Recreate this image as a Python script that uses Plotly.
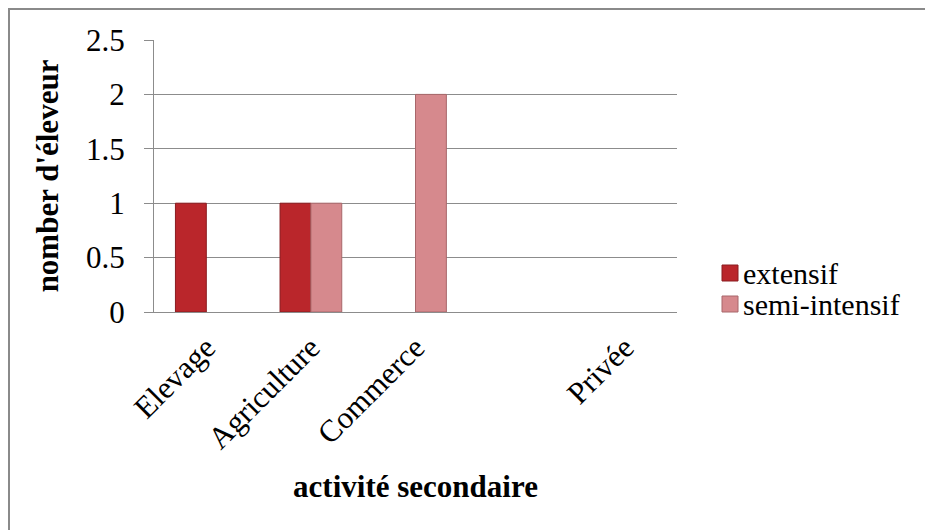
import plotly.graph_objects as go

# Secondary activity of breeders, by farming system
categories = ["Elevage", "Agriculture", "Commerce", " ", "Privée"]
extensif = [1, 1, 0, 0, 0]
semi_intensif = [0, 1, 2, 0, 0]
y_ticks = [0, 0.5, 1, 1.5, 2, 2.5]
y_tick_labels = ["0", "0.5", "1", "1.5", "2", "2.5"]
series_names = ["extensif", "semi-intensif"]
series_colors = ["#BA262B", "#D6898D"]
series_edges = ["#8a1c20", "#a8676a"]

FONT = "Liberation Serif"
GRID = "#8c8c8c"

W, H = 925, 530
L, R, T, B = 154, 248, 40, 218
pw, ph = W - L - R, H - T - B


def px_to_paper(x, y):
    return (x - L) / pw, (H - B - y) / ph


def edge_widths(values):
    # outline only the bars that actually have height
    return [1 if v > 0 else 0 for v in values]


fig = go.Figure()
for name, vals, col, edge in zip(series_names, [extensif, semi_intensif],
                                 series_colors, series_edges):
    fig.add_trace(go.Bar(
        name=name, x=categories, y=vals, showlegend=False,
        marker=dict(color=col, line=dict(color=edge, width=edge_widths(vals))),
    ))

# chart-area frame (only its top and left edges fall inside the page)
x0, y0 = px_to_paper(9, 9)
x1, y1 = px_to_paper(W + 20, H + 20)
fig.add_shape(type="rect", xref="paper", yref="paper",
              x0=x0, y0=y1, x1=x1, y1=y0,
              line=dict(color="#8a8a8a", width=2), layer="below")

# legend: colour key squares and series names to the right of the plot
legend_rows = [273, 304]
for name, col, edge, row in zip(series_names, series_colors, series_edges, legend_rows):
    kx0, ky0 = px_to_paper(722, row - 8)
    kx1, ky1 = px_to_paper(738, row + 8)
    fig.add_shape(type="rect", xref="paper", yref="paper",
                  x0=kx0, x1=kx1, y0=ky1, y1=ky0,
                  fillcolor=col, line=dict(color=edge, width=1))
    tx, ty = px_to_paper(741, row)
    fig.add_annotation(xref="paper", yref="paper", x=tx, y=ty,
                       xanchor="left", yanchor="middle", showarrow=False,
                       text=name, font=dict(family=FONT, size=30, color="black"))

fig.update_layout(
    width=W, height=H,
    margin=dict(l=L, r=R, t=T, b=B, autoexpand=False),
    paper_bgcolor="white", plot_bgcolor="white",
    barmode="group", bargap=0.41, bargroupgap=0,
    font=dict(family=FONT, size=31, color="black"),
    showlegend=False,
    xaxis=dict(
        type="category", categoryorder="array", categoryarray=categories,
        tickangle=-45, showgrid=False, showline=True, linecolor=GRID, linewidth=1,
        ticks="", tickfont=dict(family=FONT, size=31), ticklabelstandoff=4,
        title=dict(text="<b>activité secondaire</b>", font=dict(family=FONT, size=31),
                   standoff=20),
        fixedrange=True,
    ),
    yaxis=dict(
        range=[0, 2.5], tickvals=y_ticks, ticktext=y_tick_labels,
        showgrid=True, gridcolor=GRID, gridwidth=1,
        showline=True, linecolor=GRID, linewidth=1,
        ticks="outside", ticklen=9, tickcolor=GRID,
        tickfont=dict(family=FONT, size=31), ticklabelstandoff=13,
        title=dict(text="<b>nomber d'éleveur</b>", font=dict(family=FONT, size=31),
                   standoff=18),
        zeroline=False, fixedrange=True,
    ),
)

fig.write_html("out.html")
